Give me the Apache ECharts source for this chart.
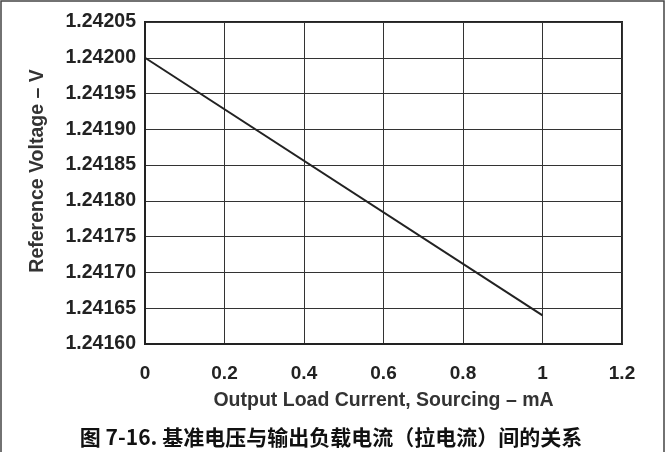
<!DOCTYPE html>
<html><head><meta charset="utf-8">
<script src="https://cdn.jsdelivr.net/npm/echarts@6/dist/echarts.min.js"></script>
<style>html,body{margin:0;padding:0;background:#fff}#c{width:666px;height:452px}</style>
</head><body><div id="c"></div>
<script>
const currentMA = [0, 1];
const voltageV = [1.24200, 1.24164];
const xTicks = [0, 0.2, 0.4, 0.6, 0.8, 1, 1.2];
const yTicks = [1.24160, 1.24165, 1.24170, 1.24175, 1.24180, 1.24185, 1.24190, 1.24195, 1.24200, 1.24205];
const xTitle = 'Output Load Current, Sourcing – mA';
const yTitle = 'Reference Voltage – V';
const caption = '图 7-16. 基准电压与输出负载电流（拉电流）间的关系';

const chart = echarts.init(document.getElementById('c'), null, {renderer:'canvas'});
const font = 'Liberation Sans, Arial, Helvetica, sans-serif';
chart.setOption({
  animation:false,
  backgroundColor:'#fff',
  grid:{left:145,top:22,right:44,bottom:108,show:true,borderColor:'#222',borderWidth:2,backgroundColor:'transparent'},
  xAxis:{type:'value',min:xTicks[0],max:xTicks[xTicks.length-1],interval:0.2,
    axisLine:{show:true,lineStyle:{color:'#222',width:2}},axisTick:{show:false},
    splitLine:{show:true,lineStyle:{color:'#333',width:1}},
    axisLabel:{color:'#222',fontFamily:font,fontWeight:'bold',fontSize:19,margin:20,
      formatter:v=>String(Math.round(v*10)/10)},
    name:xTitle,nameLocation:'middle',nameGap:47,
    nameTextStyle:{color:'#333',fontFamily:font,fontWeight:'bold',fontSize:19.5}},
  yAxis:{type:'value',min:yTicks[0],max:yTicks[yTicks.length-1],interval:0.00005,
    axisLine:{show:true,lineStyle:{color:'#222',width:2}},axisTick:{show:false},
    splitLine:{show:true,lineStyle:{color:'#333',width:1}},
    axisLabel:{color:'#222',fontFamily:font,fontWeight:'bold',fontSize:19.5,margin:9,
      formatter:v=>v.toFixed(5)}},
  series:[{type:'line',data:currentMA.map((x,i)=>[x,voltageV[i]]),showSymbol:false,
    lineStyle:{color:'#222',width:2},silent:true}],
  graphic:[
    {type:'rect',shape:{x:1,y:1,width:663,height:460},style:{fill:'none',stroke:'#444',lineWidth:1.5}},
    {type:'text',x:38,y:171,rotation:Math.PI/2,style:{text:yTitle,fill:'#333',align:'center',verticalAlign:'middle',
      font:'bold 19.5px "Liberation Sans", Arial, sans-serif'}},
    {type:'text',x:331,y:437,style:{text:caption,fill:'#111',align:'center',verticalAlign:'middle',
      font:'bold 21px "Noto Sans CJK SC", sans-serif'}}
  ]
});
</script></body></html>
